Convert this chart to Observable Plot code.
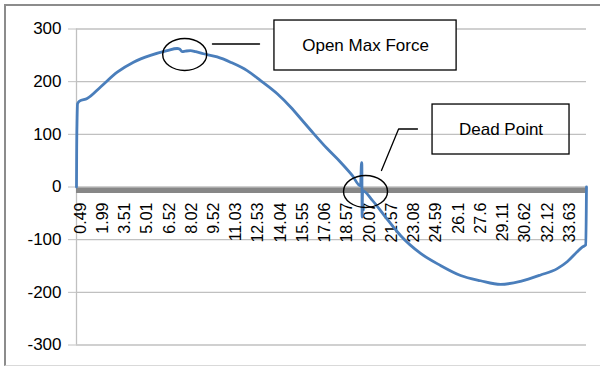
<!DOCTYPE html>
<html>
<head>
<meta charset="utf-8">
<script src="https://cdn.jsdelivr.net/npm/d3@7"></script>
<script src="https://cdn.jsdelivr.net/npm/@observablehq/plot@0.6"></script>
<style>
  html, body { margin: 0; padding: 0; background: #fff; }
  #chart { position: relative; width: 600px; height: 367px; overflow: hidden; }
  #chart .border {
    position: absolute; left: 4px; top: 4px; width: 700px; height: 359px;
    border-top: 2px solid #8c8c8c; border-left: 2px solid #8c8c8c;
    border-bottom: 1px solid #d9d9d9; pointer-events: none;
  }
  #chart svg { position: absolute; left: 0; top: 0; }
</style>
</head>
<body>
<div id="chart"><div class="border"></div></div>
<script>
// Force over one opening/closing cycle (time in s, force in N)
const time = [0.22, 0.23, 0.26, 0.29, 0.42, 0.94, 1.85, 2.98, 4.08, 5.23, 6.36, 7.04, 7.2, 7.38, 7.6, 7.94, 8.3,
  8.82, 9.75, 10.65, 11.78, 12.69, 13.82, 14.72, 15.62, 16.3, 17.2, 18.11, 18.9, 19.46, 19.53, 19.55, 19.57, 19.6,
  20.25, 21.15, 21.95, 22.17, 23.53, 24.88, 26.24, 27.59, 28.95, 30.3, 31.66, 32.79, 33.46, 34.14, 34.48, 34.72, 34.77];
const force = [0, 60, 130, 158, 163, 168, 190, 218, 237, 250, 259, 263, 262, 257, 258, 259, 257,
  253, 247, 237, 221, 202, 177, 152, 123, 101, 73, 47, 22, 2, 46, 46, -57, -7,
  -25, -57, -85, -92, -126, -149, -168, -178, -185, -179, -167, -155, -142, -123, -114, -110, 0];

// Category labels along the zero line, and the value ticks
const xTickLabels = [0.49, 1.99, 3.51, 5.01, 6.52, 8.02, 9.52, 11.03, 12.53, 14.04, 15.55, 17.06, 18.57, 20.07,
  21.57, 23.08, 24.59, 26.1, 27.6, 29.11, 30.62, 32.12, 33.63];
const yTicks = [300, 200, 100, 0, -100, -200, -300];

// Callout boxes, rings and leader lines, in data units
const noteLabels = ["Open Max Force", "Dead Point"];
const noteBoxT = [[13.63, 25.97], [24.34, 33.62]];
const noteBoxF = [[221.2, 316.1], [61.7, 156.6]];
const noteFill = ["white", "none"];
const ringT = [7.55, 19.8];
const ringF = [251.6, -8.5];
const leaderIds = ["max", "max", "dead", "dead", "dead"];
const leaderT = [9.43, 12.62, 20.88, 22.04, 23.32];
const leaderF = [271.5, 271.5, 31.3, 110.1, 110.1];

const rows = time.map((t, i) => ({t, f: force[i]}));
const boxes = noteLabels.map((label, i) => ({
  label, t1: noteBoxT[i][0], t2: noteBoxT[i][1], f1: noteBoxF[i][0], f2: noteBoxF[i][1], fill: noteFill[i]
}));
const rings = ringT.map((t, i) => ({t, f: ringF[i]}));
const leaders = leaderT.map((t, i) => ({id: leaderIds[i], t, f: leaderF[i]}));

// An ellipse symbol drawn with four cubic Bézier arcs
const ellipse = (rx, ry) => ({
  draw(ctx) {
    const k = 0.5523, ox = rx * k, oy = ry * k;
    ctx.moveTo(-rx, 0);
    ctx.bezierCurveTo(-rx, -oy, -ox, -ry, 0, -ry);
    ctx.bezierCurveTo(ox, -ry, rx, -oy, rx, 0);
    ctx.bezierCurveTo(rx, oy, ox, ry, 0, ry);
    ctx.bezierCurveTo(-ox, ry, -rx, oy, -rx, 0);
    ctx.closePath();
  }
});

const blue = "#4a7ebb";
const grid = "#c0c0c0";

const chart = Plot.plot({
  width: 600,
  height: 367,
  marginTop: 28.5,
  marginBottom: 22.5,
  marginLeft: 76,
  marginRight: 14,
  style: {
    fontFamily: "'Liberation Sans', Arial, sans-serif",
    fontSize: "17px",
    color: "#000",
    background: "transparent",
    overflow: "visible"
  },
  x: {domain: [0.22, 34.77], axis: null},
  y: {domain: [-300, 300], axis: null},
  marks: [
    Plot.gridY(yTicks, {stroke: grid, strokeOpacity: 1, strokeWidth: 1.3}),
    Plot.axisY(yTicks, {tickSize: 8, tickPadding: 7, stroke: grid, strokeOpacity: 1, tickFormat: (d) => String(d)}),
    Plot.ruleX([0.22], {stroke: grid, strokeWidth: 1.3}),
    Plot.rect(boxes, {x1: "t1", x2: "t2", y1: "f1", y2: "f2", fill: (d) => d.fill, stroke: "black", strokeWidth: 1.3}),
    Plot.ruleY([0], {stroke: "#878787", strokeWidth: 5.5, dy: 3.3}),
    Plot.text(xTickLabels, {
      x: (d) => d, y: 0, text: (d) => String(d), rotate: -90, textAnchor: "end", dy: 15.5, fontSize: 16, fill: "#000"
    }),
    Plot.line(rows, {x: "t", y: "f", stroke: blue, strokeWidth: 2.8, strokeLinejoin: "round", curve: "monotone-x"}),
    Plot.dot(rings, {x: "t", y: "f", symbol: ellipse(22, 16), r: 1, fill: "none", stroke: "black", strokeWidth: 1.4}),
    Plot.line(leaders, {x: "t", y: "f", z: "id", stroke: "black", strokeWidth: 1.3}),
    Plot.text(boxes, {
      x: (d) => (d.t1 + d.t2) / 2, y: (d) => (d.f1 + d.f2) / 2, text: "label", fontSize: 17, fill: "#000"
    })
  ]
});

document.getElementById("chart").appendChild(chart);
</script>
</body>
</html>
